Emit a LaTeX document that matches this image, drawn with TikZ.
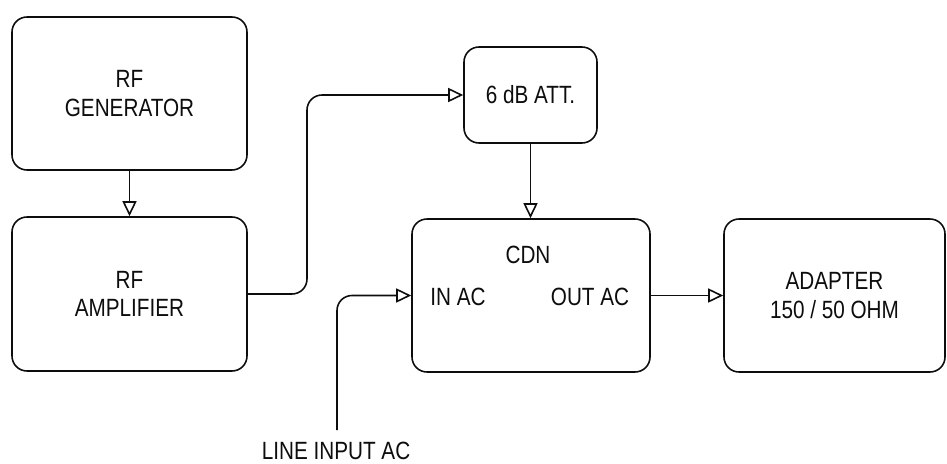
\documentclass[tikz,border=0pt]{standalone}
\usepackage{fontspec}
\usetikzlibrary{arrows.meta,calc}
\newfontfamily\blockfont[FakeStretch=0.83]{Liberation Sans}
\newcommand{\blk}{\blockfont\fontsize{14.2}{16.4}\selectfont}
\definecolor{ink}{rgb}{0.05,0.05,0.05}

\begin{document}
\begin{tikzpicture}[
  unit/.style={draw=ink,line width=0.9pt,rounded corners=0.3cm,align=center,font=\blk,text=ink,inner sep=0pt},
  feed/.style={draw=ink,line width=0.9pt,-{Triangle[open,length=0.3cm,width=0.28cm]}},
  lbl/.style={font=\blk,text=ink,inner sep=0pt}]
\useasboundingbox (0,0) rectangle (18.94,9.26);
\node[unit,minimum width=4.70cm,minimum height=3.06cm] (gen) at (2.59,7.39) {RF\\GENERATOR};
\node[unit,minimum width=4.70cm,minimum height=3.08cm] (amp) at (2.59,3.38) {RF\\AMPLIFIER};
\node[unit,minimum width=2.66cm,minimum height=1.92cm] (att) at (10.61,7.36) {6 dB ATT.};
\node[unit,minimum width=4.76cm,minimum height=3.06cm] (cdn) at (10.62,3.35) {};
\node[unit,minimum width=4.42cm,minimum height=3.06cm] (adp) at (16.69,3.35) {ADAPTER\\150 / 50 OHM};
\node[lbl] (cdnname) at (10.56,4.16) {CDN};
\node[lbl] (inac) at (9.16,3.32) {IN AC};
\node[lbl] (outac) at (11.80,3.32) {OUT AC};
\coordinate (bend) at (6.14,3.38);
\coordinate (line) at (6.74,0.66);
\node[lbl,anchor=south] (linelbl) at (6.72,0.06) {LINE INPUT AC};
\draw[feed] (gen) -- (amp);
\draw[feed,rounded corners=0.3cm] (amp.east) -- (bend) |- (att.west);
\draw[feed] (att.south) -- (att.south |- cdn.north);
\draw[feed,rounded corners=0.3cm] (line) |- (cdn.west);
\draw[feed] (cdn.east) -- (adp.west);
\end{tikzpicture}
\end{document}
